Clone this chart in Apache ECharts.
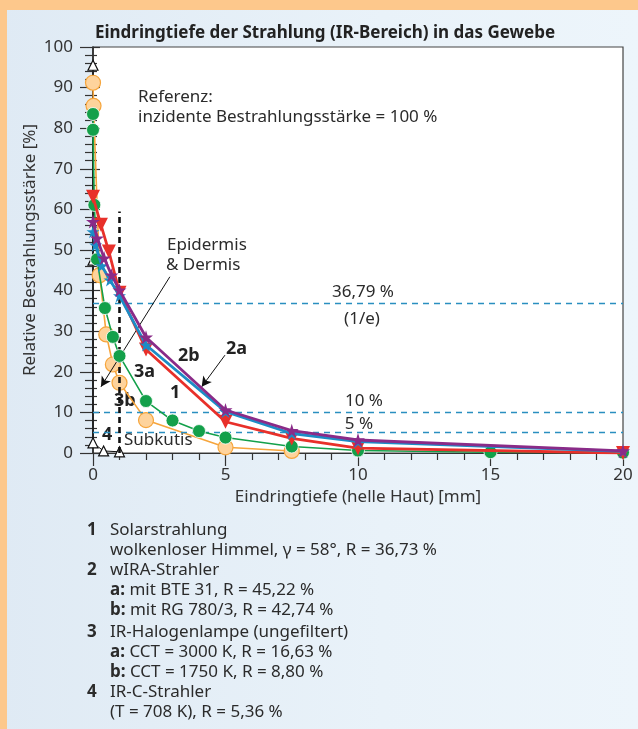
<!DOCTYPE html>
<html><head><meta charset="utf-8">
<script src="https://cdn.jsdelivr.net/npm/echarts@6/dist/echarts.min.js"></script>
<style>
html,body{margin:0;padding:0;}
body{width:638px;height:729px;position:relative;overflow:hidden;background:linear-gradient(90deg,#dfeaf4 0%,#e9f2f9 60%,#edf5fb 100%);}
#top{position:absolute;left:0;top:0;width:638px;height:10px;background:#fdc88c;}
#left{position:absolute;left:0;top:0;width:7px;height:729px;background:#fdc88c;}
#c{position:absolute;left:0;top:0;width:638px;height:729px;}
</style></head><body>
<div id="top"></div><div id="left"></div><div id="c"></div>
<script>
// Data (x = depth in mm, y = relative irradiance in %)
const solar1 = [[0,63.1],[0.3,56.2],[0.6,49.6],[1,39.5],[2,25.5],[5,7.7],[7.5,3.6],[10,1.2],[20,0]];
const wira2a = [[0,57.0],[0.15,52.9],[0.42,48.0],[0.7,43.8],[1,40.1],[2,28.5],[5,10.6],[7.5,5.5],[10,3.2],[20,0.5]];
const wira2b = [[0,54.5],[0.1,51.2],[0.33,46.1],[0.64,42.6],[1,38.7],[2,26.6],[5,10.2],[7.5,4.8],[10,2.8],[20,0.4]];
const halo3a = [[0,83.5],[0,79.6],[0.05,61.1],[0.15,47.7],[0.45,35.7],[0.75,28.6],[1,23.9],[2,12.8],[3,8.0],[4,5.4],[5,3.8],[7.5,1.6],[10,0.6],[15,0.2],[20,0.1]];
const halo3b = [[0,91.2],[0.02,85.5],[0.25,43.8],[0.5,29.2],[0.75,21.8],[1,17.3],[2,8.1],[5,1.4],[7.5,0.5]];
const irc4 = [[0,95.5],[0,47.5],[0,2.5],[0.4,0.5],[1,0.3]];
const refLines = [36.79, 10, 5];
const xTicks = [0,5,10,15,20];
const yTicks = [0,10,20,30,40,50,60,70,80,90,100];

const FONT = "'Noto Sans', sans-serif";
const FS = 17;
const chart = echarts.init(document.getElementById('c'));
const rich = {b:{fontWeight:'bold',fontFamily:FONT,fontSize:FS,fill:'#2b2b2b'}};
const lt = (x,y,s) => ({type:'text',x:x,y:y,style:{text:s,rich:rich,fontFamily:FONT,fontSize:FS,fill:'#2b2b2b',verticalAlign:'middle'}});
const bl = (x,y,s) => ({type:'text',x:x,y:y,style:{text:s,fontFamily:FONT,fontSize:18,fontWeight:'bold',fill:'#222',verticalAlign:'middle'}});
const ct = (x,y,s) => ({type:'text',x:x,y:y,style:{text:s,fontFamily:FONT,fontSize:FS,fill:'#2b2b2b',verticalAlign:'middle',align:'center'}});

const axisFont = {fontFamily:FONT,fontSize:FS,color:'#333'};
const star = 'path://M50,0 L61,35 L98,35 L68,57 L79,92 L50,70 L21,92 L32,57 L2,35 L39,35 Z';
chart.setOption({
  animation:false,
  title:{text:'Eindringtiefe der Strahlung (IR-Bereich) in das Gewebe',left:320,top:20,textAlign:'center',textStyle:{fontFamily:FONT,fontSize:17,fontWeight:'bold',color:'#222'}},
  grid:{left:93,right:15,top:47,bottom:276,show:true,backgroundColor:'#fff',borderColor:'#444',borderWidth:1.2,outerBoundsMode:'none'},
  xAxis:[{type:'value',min:0,max:20,interval:5,
    name:'Eindringtiefe (helle Haut) [mm]',nameLocation:'middle',nameGap:33,nameTextStyle:axisFont,
    axisLine:{lineStyle:{color:'#333',width:1.2}},
    axisTick:{show:true,length:13,lineStyle:{color:'#333',width:1.2}},
    minorTick:{show:true,splitNumber:5,length:7,lineStyle:{color:'#333',width:1.2}},
    axisLabel:Object.assign({margin:14,formatter:v=>xTicks.includes(v)?String(v):''},axisFont),
    splitLine:{show:false}}],
  yAxis:[{type:'value',min:0,max:100,interval:10,
    axisLine:{lineStyle:{color:'#222',width:1.5}},
    axisTick:{show:true,length:13,lineStyle:{color:'#333',width:1.2}},
    minorTick:{show:true,splitNumber:5,length:8,lineStyle:{color:'#333',width:1.2}},
    axisLabel:Object.assign({margin:20,formatter:v=>yTicks.includes(v)?String(v):''},axisFont),
    splitLine:{show:false}},
   {type:'value',min:0,max:100,interval:10,position:'left',offset:0,
    axisLine:{show:false},
    axisTick:{show:true,inside:true,length:7,lineStyle:{color:'#333',width:1.2}},
    minorTick:{show:true,splitNumber:5,length:4,lineStyle:{color:'#333',width:1.2}},
    axisLabel:{show:false},splitLine:{show:false}}],
  series:[
    {name:'ref',type:'line',data:[],silent:true,
      markLine:{silent:true,symbol:'none',label:{show:false},
        data:refLines.map(v=>[{coord:[0,v],lineStyle:{color:'#2a8fc0',type:[6,5],width:1.3}},{coord:[20,v]}]).concat([
          [{coord:[1,0],lineStyle:{color:'#111',type:[6,4],width:2.6}},{coord:[1,59.5]}]
        ])}},
    {name:'4',type:'line',data:irc4,symbol:'triangle',symbolSize:10,
      lineStyle:{color:'#111',width:1},itemStyle:{color:'#fff',borderColor:'#111',borderWidth:1.2},z:3},
    {name:'3b',type:'line',data:halo3b,symbol:'circle',symbolSize:15,
      lineStyle:{color:'#f6a53c',width:1.6},itemStyle:{color:'#fed39c',borderColor:'#f6a53c',borderWidth:1.2},z:4},
    {name:'3a',type:'line',data:halo3a,symbol:'circle',symbolSize:13,
      lineStyle:{color:'#13a04a',width:1.6},itemStyle:{color:'#13a04a',borderColor:'#fff',borderWidth:0.8},z:5},
    {name:'1',type:'line',data:solar1,symbol:'triangle',symbolRotate:180,symbolSize:14,
      lineStyle:{color:'#e8302a',width:2.8},itemStyle:{color:'#e8302a'},z:6},
    {name:'2b',type:'line',data:wira2b,symbol:star,symbolSize:13,
      lineStyle:{color:'#1c8cc6',width:2.8},itemStyle:{color:'#1c8cc6'},z:7},
    {name:'2a',type:'line',data:wira2a,symbol:star,symbolSize:14,
      lineStyle:{color:'#8a2b88',width:2.8},itemStyle:{color:'#8a2b88'},z:8,
      markLine:{silent:true,label:{show:false},symbolSize:[8,10],
        data:[
          [{coord:[2.9,43.4],symbol:'none',lineStyle:{color:'#111',width:1,type:'solid'}},{coord:[0.3,16.3],symbol:'arrow'}],
          [{coord:[4.98,24.1],symbol:'none',lineStyle:{color:'#111',width:1,type:'solid'}},{coord:[4.1,16.3],symbol:'arrow'}]
        ]}}
  ],
  graphic:[
    {type:'text',x:30,y:250,rotation:Math.PI/2,style:{text:'Relative Bestrahlungsstärke [%]',fontFamily:FONT,fontSize:FS,fill:'#333',align:'center',verticalAlign:'middle'}},
    lt(138,97,'Referenz:'),
    lt(138,117,'inzidente Bestrahlungsstärke = 100 %'),
    lt(167,245,'Epidermis'),
    lt(166,265,'& Dermis'),
    ct(363,292,'36,79 %'),
    ct(362,319,'(1/e)'),
    ct(364,401,'10 %'),
    ct(359,424,'5 %'),
    bl(226,349,'2a'),
    bl(178,356,'2b'),
    bl(170,393,'1'),
    bl(134,372,'3a'),
    bl(114,401,'3b'),
    bl(102,435,'4'),
    lt(124,440,'Subkutis'),
    lt(87,530,'{b|1}'), lt(110,530,'Solarstrahlung'),
    lt(110,550,'wolkenloser Himmel, γ = 58°, R = 36,73 %'),
    lt(87,570,'{b|2}'), lt(110,570,'wIRA-Strahler'),
    lt(110,590,'{b|a:} mit BTE 31, R = 45,22 %'),
    lt(110,610,'{b|b:} mit RG 780/3, R = 42,74 %'),
    lt(87,632,'{b|3}'), lt(110,632,'IR-Halogenlampe (ungefiltert)'),
    lt(110,652,'{b|a:} CCT = 3000 K, R = 16,63 %'),
    lt(110,672,'{b|b:} CCT = 1750 K, R = 8,80 %'),
    lt(87,692,'{b|4}'), lt(110,692,'IR-C-Strahler'),
    lt(110,712,'(T = 708 K), R = 5,36 %')
  ]
});
</script></body></html>
